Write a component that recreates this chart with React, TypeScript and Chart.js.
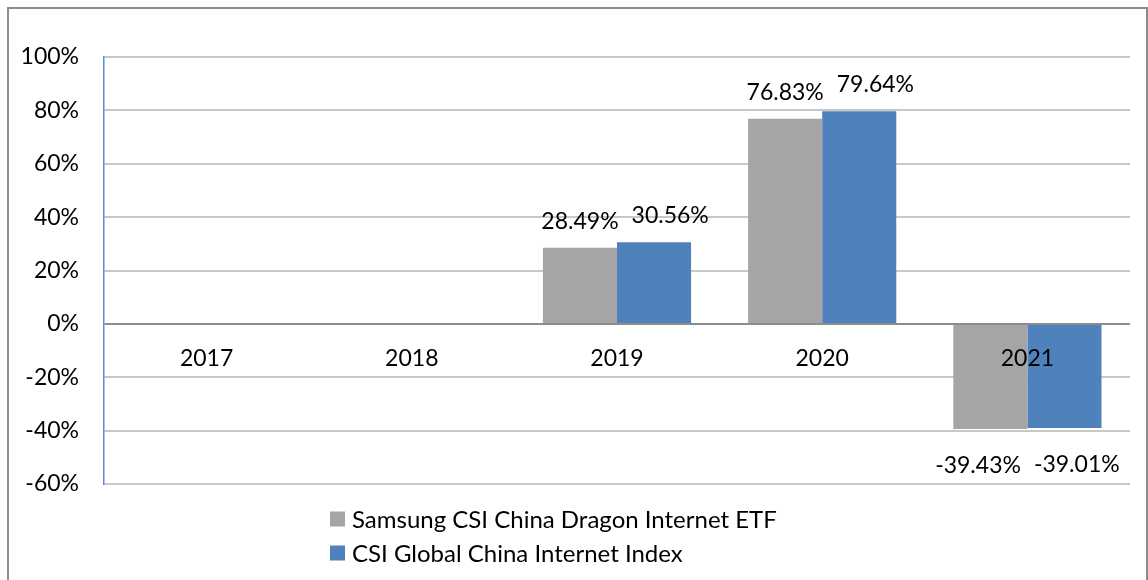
import React, { useEffect, useRef } from "react";
import { Chart, registerables } from "chart.js";

Chart.register(...registerables);

const categories = ["2017", "2018", "2019", "2020", "2021"];
const samsungEtf: (number | null)[] = [null, null, 28.49, 76.83, -39.43];
const csiIndex: (number | null)[] = [null, null, 30.56, 79.64, -39.01];
const seriesNames = ["Samsung CSI China Dragon Internet ETF", "CSI Global China Internet Index"];
const yTickValues = [-60, -40, -20, 0, 20, 40, 60, 80, 100];
const seriesColors = ["#a5a5a5", "#4f81bd"];

const FONT = "Lato";
const FS = 23;
const LEGEND_FS = 24;

const valueLabelPlugin = {
  id: "valueLabels",
  afterDatasetsDraw(chart: any) {
    const ctx = chart.ctx;
    ctx.save();
    ctx.font = `${FS}px ${FONT}`;
    ctx.fillStyle = "#000";
    ctx.textAlign = "center";
    ctx.textBaseline = "alphabetic";
    const n = chart.data.labels.length;
    const gap = 13;
    for (let j = 0; j < n; j++) {
      const items: any[] = [];
      chart.data.datasets.forEach((ds: any, i: number) => {
        const v = ds.data[j];
        if (v == null) return;
        const el = chart.getDatasetMeta(i).data[j];
        const text = v.toFixed(2) + "%";
        const w = ctx.measureText(text).width;
        items.push({ v, text, w, x: el.x, y: v >= 0 ? el.y - 19 : el.y + 44 });
      });
      for (let k = 1; k < items.length; k++) {
        const a = items[k - 1];
        const b = items[k];
        const overlap = a.w / 2 + b.w / 2 + gap - (b.x - a.x);
        if (overlap > 0) {
          if (b.v >= 0) {
            b.x += overlap;
          } else {
            a.x -= overlap / 2;
            b.x += overlap / 2;
          }
        }
      }
      items.forEach((it) => ctx.fillText(it.text, it.x, it.y));
    }
    ctx.restore();
  },
};

const legendPlugin = {
  id: "stackedLegend",
  afterDraw(chart: any) {
    const ctx = chart.ctx;
    const area = chart.chartArea;
    ctx.save();
    ctx.font = `${LEGEND_FS}px ${FONT}`;
    ctx.textAlign = "left";
    ctx.textBaseline = "middle";
    chart.data.datasets.forEach((ds: any, i: number) => {
      const cy = area.bottom + 35 + i * 34;
      ctx.fillStyle = ds.backgroundColor;
      ctx.fillRect(321, cy - 7.5, 15, 15);
      ctx.fillStyle = "#000";
      ctx.fillText(ds.label, 343, cy + 1);
    });
    ctx.restore();
  },
};

export default function App() {
  const ref = useRef<HTMLCanvasElement | null>(null);

  useEffect(() => {
    if (!ref.current) return;
    const chart = new Chart(ref.current, {
      type: "bar",
      data: {
        labels: categories,
        datasets: [
          {
            label: seriesNames[0],
            data: samsungEtf,
            backgroundColor: seriesColors[0],
            borderWidth: 0,
            categoryPercentage: 0.722,
            barPercentage: 1,
          },
          {
            label: seriesNames[1],
            data: csiIndex,
            backgroundColor: seriesColors[1],
            borderWidth: 0,
            categoryPercentage: 0.722,
            barPercentage: 1,
          },
        ],
      } as any,
      options: {
        responsive: false,
        animation: false,
        devicePixelRatio: 1,
        layout: { padding: { left: 0, top: 48, right: 16, bottom: 96 } },
        plugins: {
          legend: { display: false },
          tooltip: { enabled: false },
        },
        scales: {
          x: {
            position: { y: 0 } as any,
            grid: { display: false, drawTicks: false },
            border: { display: false },
            ticks: {
              z: 1,
              color: "#000",
              font: { family: FONT, size: FS },
              padding: 21,
              maxRotation: 0,
              autoSkip: false,
            },
            afterFit: (s: any) => {
              s.height = 0;
            },
          },
          y: {
            min: -60,
            max: 100,
            afterBuildTicks: (s: any) => {
              s.ticks = yTickValues.map((v) => ({ value: v }));
            },
            afterFit: (s: any) => {
              s.width = 95;
            },
            grid: {
              color: (c: any) => (c.tick && c.tick.value === 0 ? "#8c8c8c" : "#c8c8c8"),
              lineWidth: 2,
              drawTicks: false,
            },
            border: { display: true, color: "#5b8ccc", width: 1.5 },
            ticks: {
              color: "#000",
              font: { family: FONT, size: FS },
              padding: 25,
              callback: (v: any) => v + "%",
            },
          },
        } as any,
      },
      plugins: [valueLabelPlugin, legendPlugin],
    });
    return () => chart.destroy();
  }, []);

  return (
    <div
      style={{
        position: "absolute",
        left: 7,
        top: 7,
        width: 1141,
        height: 600,
        border: "2px solid #8c8c8c",
        boxSizing: "border-box",
        background: "#fff",
        overflow: "hidden",
      }}
    >
      <canvas ref={ref} width={1137} height={571} style={{ position: "absolute", left: 0, top: 0 }} />
    </div>
  );
}
